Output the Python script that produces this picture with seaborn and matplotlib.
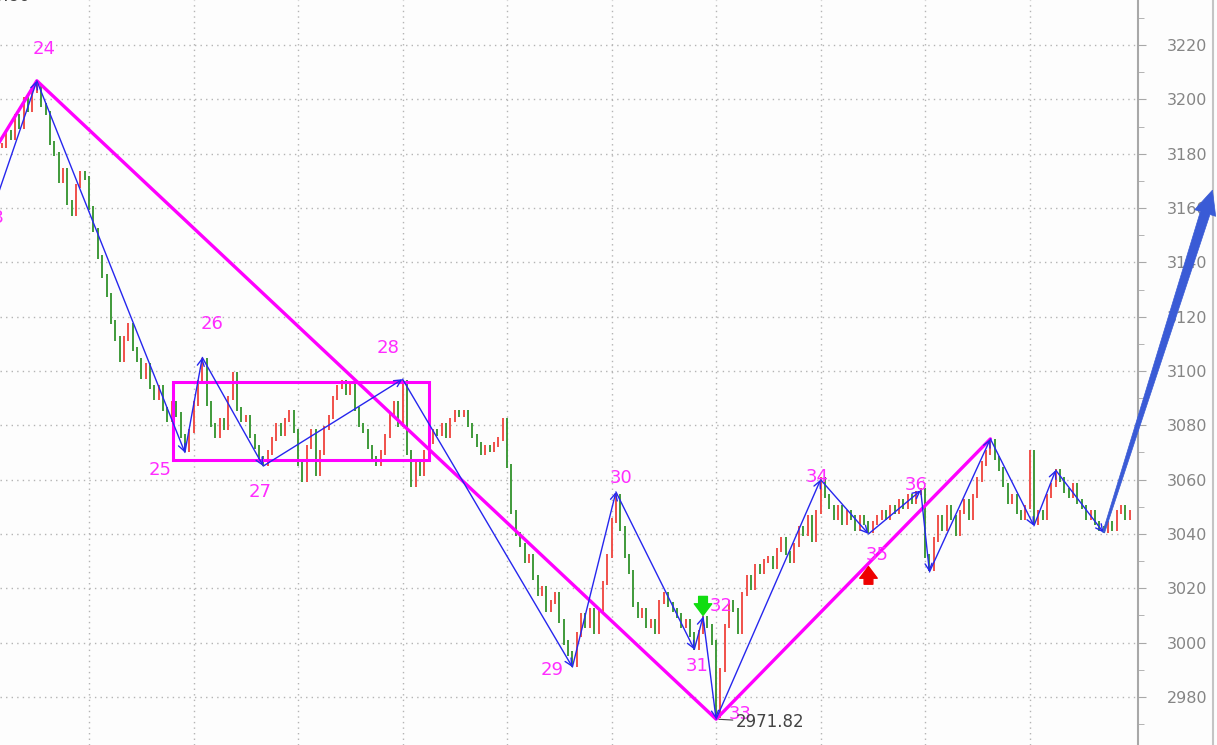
import numpy as np
import pandas as pd
import matplotlib
matplotlib.use("Agg")
import matplotlib.pyplot as plt
import seaborn as sns
from matplotlib.patches import Rectangle, Polygon
from matplotlib.transforms import IdentityTransform
from matplotlib.ticker import MultipleLocator

# bar closes (one bar every ~4.35 px, 24 bars between vertical grid lines)
closes = [
    3183, 3188, 3186, 3194, 3190, 3200, 3196, 3203, 3205,
    3198, 3195, 3184, 3180, 3170, 3174, 3162, 3158, 3168, 3173, 3171, 3160, 3152, 3142,
    3135, 3128, 3118, 3112, 3104, 3112, 3117, 3108, 3104, 3098, 3102, 3094, 3090, 3094,
    3086, 3082, 3088, 3084, 3076, 3071,
    3078, 3088, 3096, 3104,
    3088, 3080, 3076, 3082, 3079, 3090, 3099, 3086, 3082, 3083, 3076, 3072, 3068, 3066,
    3070, 3075, 3080, 3077, 3082, 3085, 3078, 3066, 3060, 3072, 3078, 3062, 3070, 3079,
    3083, 3090, 3094, 3096, 3092, 3095, 3086, 3080, 3078, 3072, 3068, 3066, 3070, 3076,
    3084, 3088, 3080, 3096,
    3070, 3058, 3066, 3062, 3070, 3074, 3078, 3077, 3080, 3076, 3082, 3085, 3084, 3085,
    3080, 3076, 3073, 3070, 3072, 3071, 3073, 3075, 3082, 3065, 3048, 3040,
    3036, 3030, 3032, 3024, 3018, 3020, 3012, 3015, 3018, 3008, 3000, 2996, 2992,
    3003, 3010, 3006, 3012, 3004, 3012, 3022, 3032, 3045, 3054,
    3042, 3032, 3026, 3014, 3010, 3012, 3006, 3008, 3004, 3015, 3018, 3014, 3012, 3010,
    3006, 3008, 3003, 2998, 3004, 3009, 3006, 3000, 2973,
    2990, 3006, 3015, 3012, 3004, 3018, 3024, 3020, 3028, 3026, 3030, 3031, 3028, 3034,
    3038, 3033, 3030, 3036, 3042, 3040, 3046, 3038, 3048, 3060,
    3054, 3050, 3046, 3050, 3044, 3048, 3046, 3042, 3046, 3044, 3041,
    3044, 3046, 3048, 3046, 3050, 3048, 3052, 3050, 3054, 3052, 3055, 3056, 3032, 3027,
    3038, 3046, 3042, 3050, 3046, 3040, 3048, 3052, 3046, 3054, 3060, 3066, 3070, 3074,
    3068, 3064, 3058, 3052, 3054, 3048, 3046, 3050, 3070, 3044,
    3048, 3046, 3054, 3058, 3063,
    3060, 3056, 3054, 3058, 3052, 3050, 3046, 3048, 3044, 3042, 3041,
    3044, 3042, 3048, 3050, 3046, 3048,
]

# zigzag pivots
pivot_idx = [-2, 8, 42, 46, 60, 92, 131, 141, 159, 161, 164, 188, 199, 211, 213, 227, 237, 242, 253]
pivot_price = [3160, 3206.86, 3070, 3105, 3065, 3097, 2991, 3055.5, 2997.5, 3009.5, 2971.82,
               3060, 3040, 3056, 3026, 3075, 3043, 3063.5, 3040.5]
pivot_label = ['23', '24', '25', '26', '27', '28', '29', '30', '31', '32', '33', '34', '35', '36']

# projection arrow
target_idx = 278
target_price = 3166.6

# magenta trend line and consolidation box
trend_idx = [-3, 8, 164, 227]
trend_price = [3178, 3206.86, 2971.82, 3075]
box_start, box_end = 39.3, 98.0
box_low, box_high = 3067.3, 3096.0

# buy / sell signals
sell_idx, sell_price = 161, 3015
buy_idx, buy_price = 199, 3024

low_value = 2971.82
top_value = 3206.86

yticks = list(range(2980, 3221, 20))
grid_idx = list(range(20, 260, 24))

# label offsets (pixels) for pivot labels
label_dx = [0, 7, -25, 10, -3, -15, -20, 5, 3, 18, 24, -3, 9, -5]
label_dy = [-10, 32, -18, 33, -26, 31, -3, 14, -17, 11, 5, 3, -21, 6]

sns.set_style("white")
plt.rcParams['font.family'] = ['DejaVu Sans']

fig = plt.figure(figsize=(12.17, 7.45), dpi=100, facecolor='#fdfdfd')
ax = fig.add_axes([0, 0, 1138 / 1217, 1])
ax.set_facecolor('#fdfdfd')

ax.set_xlim(-0.46, 260.9)
ax.set_ylim(2962.3, 3236.6)

# grid
for y in yticks:
    ax.axhline(y, color='#b4b4b4', lw=1, ls=(0, (1, 3)), zorder=0)
for g in grid_idx:
    ax.axvline(g, color='#b4b4b4', lw=1, ls=(0, (1, 3)), zorder=0)

# candles
df = pd.DataFrame({'idx': np.arange(len(closes)), 'close': closes})
df['open'] = df['close'].shift(1).fillna(df['close'])
up = df['close'] >= df['open']
lo = df[['open', 'close']].min(axis=1) - 0.8
hi = df[['open', 'close']].max(axis=1) + 0.8
ax.vlines(df['idx'][up], lo[up], hi[up], colors='#f0504a', lw=1.4, zorder=2)
ax.vlines(df['idx'][~up], lo[~up], hi[~up], colors='#3f9a3a', lw=1.4, zorder=2)

# magenta trend line
sns.lineplot(x=trend_idx, y=trend_price, color='#ff00ff', lw=2.4, ax=ax, zorder=4,
             sort=False, estimator=None)

ax.add_patch(Rectangle((box_start, box_low), box_end - box_start, box_high - box_low,
                       fill=False, ec='#ff00ff', lw=2.2, zorder=4))

# zigzag arrows
for k in range(len(pivot_idx) - 1):
    ax.annotate('', xy=(pivot_idx[k + 1], pivot_price[k + 1]),
                xytext=(pivot_idx[k], pivot_price[k]),
                arrowprops=dict(arrowstyle='->,head_length=0.5,head_width=0.25',
                                color='#2626ee', lw=1.0, shrinkA=0, shrinkB=0),
                zorder=5)

# projection: tapered arrow built in pixel space
s = ax.transData.transform((pivot_idx[-1], pivot_price[-1]))
e = ax.transData.transform((target_idx, target_price))
u = (e - s) / np.hypot(*(e - s))
n = np.array([-u[1], u[0]])
b = e - u * 24
shape = [s + n * 1.0, b + n * 5, b + n * 11, e, b - n * 11, b - n * 5, s - n * 1.0]
fig.add_artist(Polygon(shape, closed=True, transform=IdentityTransform(),
                       fc='#3a5bd6', ec='#3a5bd6', lw=0.5, zorder=6))

# pivot labels
for k, lab in enumerate(pivot_label):
    ax.annotate(lab, xy=(pivot_idx[k], pivot_price[k]), xytext=(label_dx[k], label_dy[k]),
                textcoords='offset pixels', ha='center', va='center',
                fontsize=13, color='#ff2cff', zorder=7, annotation_clip=False)

# low value label
ax.annotate(f'{low_value:.2f}', xy=(164, low_value), xytext=(20, -3),
            textcoords='offset pixels', ha='left', va='center', fontsize=12,
            color='#444444', zorder=7,
            arrowprops=dict(arrowstyle='-', color='#444444', lw=0.8, shrinkA=0, shrinkB=2))

# signals
ax.annotate('', xy=(sell_idx, sell_price - 5), xytext=(sell_idx, sell_price + 2),
            arrowprops=dict(arrowstyle='simple,head_length=0.6,head_width=0.9,tail_width=0.45',
                            color='#11dd11', mutation_scale=14, shrinkA=0, shrinkB=0), zorder=7)
ax.annotate('', xy=(buy_idx, buy_price + 4), xytext=(buy_idx, buy_price - 2.5),
            arrowprops=dict(arrowstyle='simple,head_length=0.6,head_width=0.9,tail_width=0.45',
                            color='#ee0000', mutation_scale=14, shrinkA=0, shrinkB=0), zorder=7)

# axes styling
for side in ['top', 'left', 'bottom']:
    ax.spines[side].set_visible(False)
ax.spines['right'].set_color('#a8a8a8')
ax.spines['right'].set_linewidth(1.5)
ax.set_xticks([])
ax.yaxis.tick_right()
ax.set_yticks(yticks)
ax.yaxis.set_minor_locator(MultipleLocator(10))
ax.tick_params(axis='y', which='major', length=6, color='#a8a8a8', pad=15,
               labelsize=11.5, labelcolor='#858585', direction='out')
ax.tick_params(axis='y', which='minor', length=4, color='#a8a8a8', direction='out')

# outer frame line and cut-off top value
fig.add_artist(plt.Line2D([1213 / 1217, 1213 / 1217], [0, 1], color='#c4c4c4', lw=1.5))
fig.text(30 / 1217, 1 - 5 / 745, f'{top_value:.2f}', ha='right', va='bottom',
         fontsize=12, color='#444444')

fig.savefig('out.png', dpi=100, facecolor=fig.get_facecolor())
